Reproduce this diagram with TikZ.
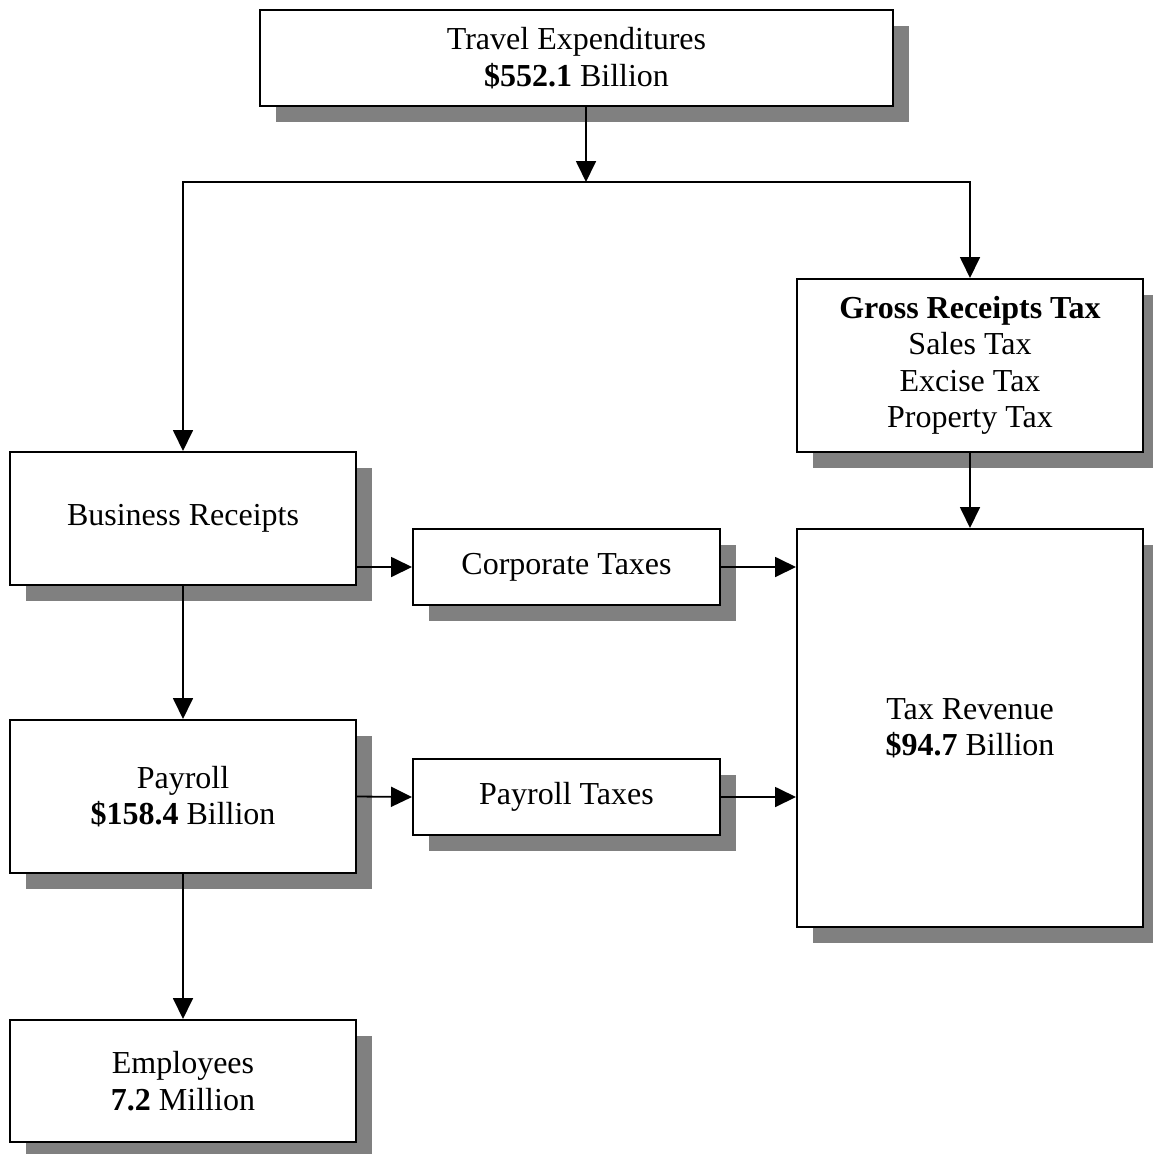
\documentclass[tikz,border=0pt]{standalone}
\usepackage{fontspec}
\setmainfont{Liberation Serif}
\usetikzlibrary{positioning,shadows,arrows.meta}
\definecolor{shadowColor}{RGB}{128,128,128}
\tikzstyle{flowChart} = [x = 1pt, y = -1pt, line width = 2pt, >={Triangle[length=21pt, width=20pt]}]
\tikzstyle{boxStyle} = [draw=black, fill=white, align=center, inner sep=0pt, font=\fontsize{32}{36.5}\selectfont, execute at begin node={\vspace*{7pt}}, drop shadow={shadow xshift=16pt, shadow yshift=-16pt, fill=shadowColor, opacity=1}]
\tikzstyle{flowArrow} = [->, line width = 1.8pt]
\newcommand{\flowBox}[6]{\node [boxStyle, minimum width=#4, minimum height=#5] (#1) at (#2,#3) {#6};}

\begin{document}
\begin{tikzpicture}[flowChart]
  \useasboundingbox (0,0) rectangle (1153,1154);
  % boxes
  \flowBox{travel}{576.5}{58}{633}{96}{Travel Expenditures\\\textbf{\$552.1} Billion}
  \flowBox{gross}{970}{365.5}{346}{173}{\textbf{Gross Receipts Tax}\\Sales Tax\\Excise Tax\\Property Tax}
  \flowBox{business}{183}{518.5}{346}{133}{Business Receipts}
  \flowBox{corp}{566.5}{567}{307}{76}{Corporate Taxes}
  \flowBox{revenue}{970}{728}{346}{398}{Tax Revenue\\\textbf{\$94.7} Billion}
  \flowBox{payroll}{183}{796.5}{346}{153}{Payroll\\\textbf{\$158.4} Billion}
  \flowBox{paytax}{566.5}{797}{307}{76}{Payroll Taxes}
  \flowBox{employees}{183}{1081}{346}{122}{Employees\\\textbf{7.2} Million}
  % connectors
  \coordinate (split) at (586,182);
  \draw [flowArrow] (travel.south -| split) -- (split);
  \draw [flowArrow, <->] (business.north) |- (gross.north |- split) -- (gross.north);
  \draw [flowArrow] (gross.south) -- (revenue.north);
  \draw [flowArrow] (business.east |- corp.west) -- (corp.west);
  \draw [flowArrow] (corp.east) -- (corp.east -| revenue.west);
  \draw [flowArrow] (business.south) -- (payroll.north);
  \draw [flowArrow] (payroll.east) -- (paytax.west);
  \draw [flowArrow] (paytax.east) -- (paytax.east -| revenue.west);
  \draw [flowArrow] (payroll.south) -- (employees.north);
\end{tikzpicture}
\end{document}
